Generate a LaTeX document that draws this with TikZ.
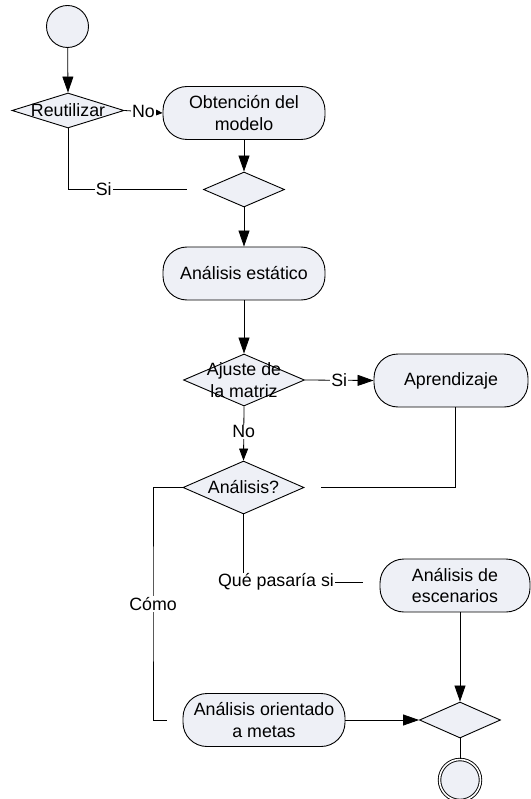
\documentclass[tikz,border=0pt]{standalone}
\usepackage{fontspec}
\setmainfont{Liberation Sans}
\usetikzlibrary{shapes.geometric,arrows.meta}
\definecolor{shapefill}{HTML}{EEF0F6}
\tikzset{
  base/.style={draw=black, line width=0.9pt, fill=shapefill},
  txt/.style={font=\fontsize{17.8}{21.5}\selectfont, align=center, inner sep=0pt},
  action/.style={base, txt, rounded corners=24pt, minimum height=53pt},
  dia/.style={base, diamond, inner sep=0pt},
  flow/.style={draw=black, line width=0.8pt},
  arr/.style={flow, -{Triangle[length=16pt,width=11pt]}},
  arrm/.style={flow, -{Triangle[length=12pt,width=9pt]}},
  arrs/.style={flow, -{Triangle[length=8pt,width=7pt]}},
  lab/.style={txt, fill=white, inner sep=1pt},
}
\begin{document}
\begin{tikzpicture}[x=1pt,y=-1pt]
\useasboundingbox (0,0) rectangle (530,799);

% nodes
\node[base, circle, minimum size=42pt, inner sep=0pt] (start) at (67.5,26.5) {};
\node[dia, minimum width=112pt, minimum height=35pt, label={[txt]center:Reutilizar}] (reut) at (68,110.5) {};
\node[action, minimum width=162pt] (obt) at (244,113) {Obtención del\\modelo};
\node[dia, minimum width=81pt, minimum height=35pt] (merge1) at (244,189.5) {};
\node[action, minimum width=162pt] (estat) at (244,273.5) {Análisis estático};
\node[dia, minimum width=121pt, minimum height=52pt, label={[txt]center:Ajuste de\\la matriz}] (ajuste) at (244,380) {};
\node[action, minimum width=154pt] (aprend) at (451,380.5) {Aprendizaje};
\node[dia, minimum width=121pt, minimum height=53pt, label={[txt]center:Análisis?}] (analisis) at (243.5,487.5) {};
\node[action, minimum width=150pt] (escen) at (455,585.5) {Análisis de\\escenarios};
\node[action, minimum width=162pt] (metas) at (264,720) {Análisis orientado\\a metas};
\node[dia, minimum width=81pt, minimum height=36pt] (merge2) at (460,720) {};
\node[base, circle, minimum size=41pt, inner sep=0pt, double=white, double distance=1.6pt] (stop) at (460,780) {};

% connectors
\draw[arr] (start) -- (reut.north);
\draw[arrs] (reut.east) -- node[lab] {No} (obt.west);
\draw[arr] (obt.south) -- (merge1.north);
\coordinate (sidash) at (187,189.5);
\draw[flow] (reut.south) |- node[lab, pos=0.65] {Si} (sidash);
\draw[arr] (merge1.south) -- (estat.north);
\draw[arr] (estat.south) -- (ajuste.north);
\draw[arr] (ajuste.east) -- node[lab] {Si} (aprend.west);
\draw[arrm] (ajuste.south) -- node[lab, pos=0.47] {No} (analisis.north);
\coordinate (aprback) at (321,487.5);
\draw[flow] (aprend.south -| 455,0) |- (aprback);
\coordinate (escin) at (363,582);
\draw[flow] (analisis.south) |- (escin);
\node[lab] (quelab) at (276,582) {Qué pasaría si};
\coordinate (metasin) at (167,720);
\draw[flow] (analisis.west) -| (153,604) |- (metasin);
\node[lab] (comolab) at (153,604) {Cómo};
\draw[arr] (escen.south -| merge2.north) -- (merge2.north);
\draw[arr] (metas.east) -- (merge2.west);
\draw[flow] (merge2.south) -- (stop.north);
\end{tikzpicture}
\end{document}
